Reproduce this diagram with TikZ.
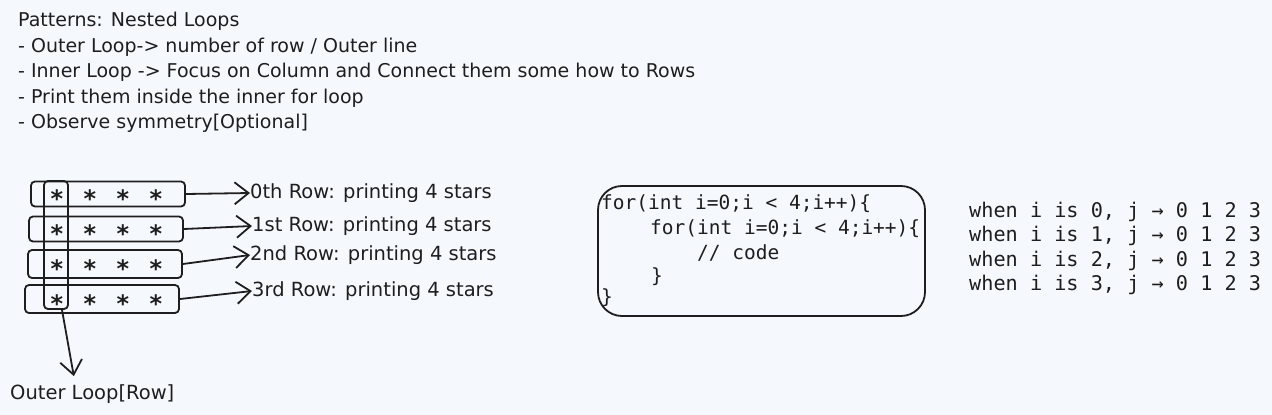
\documentclass[tikz,border=0pt]{standalone}
\usepackage{fontspec}
\setmainfont{DejaVu Sans}
\setmonofont{DejaVu Sans Mono}
\usetikzlibrary{arrows.meta}

\definecolor{paper}{HTML}{F5F9FD}
\definecolor{ink}{HTML}{1E1E1E}

\tikzset{
  rowbox/.style={draw=ink, line width=1.8pt, rounded corners=4pt,
    minimum width=154pt, minimum height=25pt, inner sep=0pt},
  starmark/.style={text=ink, font=\fontsize{24}{24}\selectfont\bfseries, inner sep=0pt},
  rowlabel/.style={text=ink, anchor=west, inner sep=0pt,
    font=\fontsize{19.5}{19.5}\selectfont},
  pointer/.style={draw=ink, line width=1.8pt,
    -{Straight Barb[length=14pt,width=22pt,line width=1.8pt]}},
  codeline/.style={text=ink, anchor=west, inner sep=0pt,
    font=\fontsize{19.5}{19.5}\selectfont\ttfamily},
}

\begin{document}
\begin{tikzpicture}[x=1pt, y=-1pt]
  % page
  \fill[paper] (0,0) rectangle (1272,415);
  \useasboundingbox (0,0) rectangle (1272,415);

  % Notes at the top
  \node[text=ink, anchor=north west, align=left, inner sep=0pt,
        font=\fontsize{19}{25.5}\selectfont] (notes) at (18,12)
    {Patterns: Nested Loops\\
     - Outer Loop-> number of row / Outer line\\
     - Inner Loop -> Focus on Column and Connect them some how to Rows\\
     - Print them inside the inner for loop\\
     - Observe symmetry[Optional]};

  % Rows of stars
  \node[rowbox] (row0) at (108,194) {};
  \node[rowbox] (row1) at (106,229) {};
  \node[rowbox, minimum height=28pt] (row2) at (105,264) {};
  \node[rowbox, minimum height=28pt] (row3) at (102,299) {};
  \foreach \r/\y in {0/194, 1/229, 2/264, 3/299}{
    \foreach \c/\x in {1/57, 2/90, 3/123, 4/156}
      \node[starmark] (s\r\c) at (\x,\y+5) {*};
  }

  % first column = outer loop
  \node[draw=ink, line width=1.8pt, rounded corners=4pt, inner sep=0pt,
        minimum width=24pt, minimum height=128pt] (col) at (56,245) {};

  % Row labels
  \node[rowlabel] (lab0) at (250,193) {0th Row: printing 4 stars};
  \node[rowlabel] (lab1) at (252,226) {1st Row: printing 4 stars};
  \node[rowlabel] (lab2) at (250,255) {2nd Row: printing 4 stars};
  \node[rowlabel] (lab3) at (252,291) {3rd Row: printing 4 stars};
  \draw[pointer] (row0.east) -- (lab0.west);
  \draw[pointer] (row1.east) -- (lab1.west);
  \draw[pointer] (row2.east) -- (lab2.west);
  \draw[pointer] (row3.east) -- (lab3.west);

  % Outer loop label
  \node[rowlabel, anchor=north west] (outer) at (10,384) {Outer Loop[Row]};
  \draw[pointer, shorten >=8pt] ([xshift=6pt]col.south) -- ([xshift=-17pt]outer.north);

  % Code
  \node[draw=ink, line width=1.8pt, rounded corners=24pt, inner sep=0pt,
        minimum width=327pt, minimum height=130pt] (code) at (761.5,251) {};
  \node[codeline] (c1) at (601,204) {for(int i=0;i < 4;i++)\{};
  \node[codeline] (c2) at (650,229) {for(int i=0;i < 4;i++)\{};
  \node[codeline] (c3) at (697,253) {// code};
  \node[codeline] (c4) at (651,277) {\}};
  \node[codeline] (c5) at (601,298) {\}};

  % Values of j
  \node[text=ink, anchor=west, align=left, inner sep=0pt,
        font=\fontsize{20.2}{24.2}\selectfont\ttfamily] (trace) at (969,248.5)
    {when i is 0, j → 0 1 2 3\\
     when i is 1, j → 0 1 2 3\\
     when i is 2, j → 0 1 2 3\\
     when i is 3, j → 0 1 2 3};
\end{tikzpicture}
\end{document}
